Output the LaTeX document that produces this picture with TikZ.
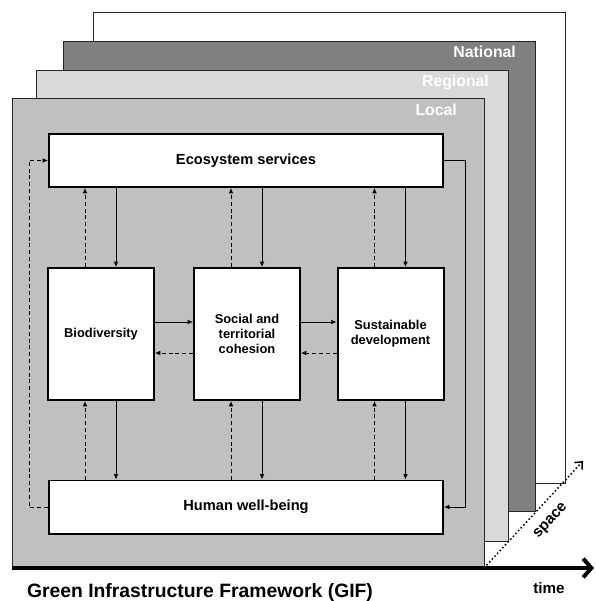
\documentclass[tikz,border=0pt]{standalone}
\usepackage{fontspec}
\setmainfont{Liberation Sans}
\usetikzlibrary{arrows.meta,calc}
\definecolor{localgray}{HTML}{C0C0C0}
\definecolor{regiongray}{HTML}{D9D9D9}
\definecolor{nationgray}{HTML}{808080}
\tikzset{
  layer/.style={draw=black!85,line width=0.8pt},
  layerlabel/.style={anchor=east,text=white,font=\bfseries\fontsize{13.5}{16}\selectfont},
  box/.style={draw,fill=white,line width=1.7pt,align=center,inner sep=0pt,font=\bfseries\fontsize{11}{12.8}\selectfont},
  wide/.style={box,minimum width=11.82cm,minimum height=1.59cm,font=\bfseries\fontsize{12.5}{14}\selectfont},
  tall/.style={box,minimum width=3.18cm,minimum height=3.96cm},
  flow/.style={line width=0.8pt,-{Latex[length=4.5pt,width=4pt]}},
  back/.style={flow,dash pattern=on 3.4pt off 2.4pt},
}
\begin{document}
\begin{tikzpicture}[x=0.03cm,y=-0.03cm]
\useasboundingbox (0,0) rectangle (595,601);
% layers, back to front
\draw[layer,fill=white] (93,12) rectangle (565,483);
\draw[layer,fill=nationgray] (63,41) rectangle (535,511);
\draw[layer,fill=regiongray] (36,70) rectangle (508,541);
\draw[layer,fill=localgray] (12.5,98) rectangle (484,568);
\node[layerlabel] (national) at (520,52) {National};
\node[layerlabel] (regional) at (493,82) {Regional};
\node[layerlabel] (local) at (461,110) {Local};

% framework boxes
\node[wide] (eco) at (246,160.5) {Ecosystem services};
\node[wide] (hwb) at (246,507) {Human well-being};
\node[tall] (bio) at (101,334) {Biodiversity};
\node[tall] (soc) at (247,334) {Social and\\territorial\\cohesion};
\node[tall] (sus) at (390.5,334) {Sustainable\\development};

% links up and down
\foreach \b in {bio,soc,sus}{
  \coordinate (dn) at ($(\b.north)+(15,0)$);
  \coordinate (up) at ($(\b.north)+(-16,0)$);
  \draw[flow] (eco.south -| dn) -- (\b.north -| dn);
  \draw[back] (\b.north -| up) -- (eco.south -| up);
  \draw[flow] (\b.south -| dn) -- (hwb.north -| dn);
  \draw[back] (hwb.north -| up) -- (\b.south -| up);
}

% links across
\draw[flow] ($(bio.east)+(0,-12)$) -- ($(soc.west)+(0,-12)$);
\draw[flow] ($(soc.east)+(0,-12)$) -- ($(sus.west)+(0,-12)$);
\draw[back] ($(soc.west)+(0,19)$) -- ($(bio.east)+(0,19)$);
\draw[back] ($(sus.west)+(0,19)$) -- ($(soc.east)+(0,19)$);

% outer loops
\draw[back] (hwb.west) -- ++(-19,0) |- (eco.west);
\draw[flow] (eco.east) -- ++(21,0) |- (hwb.east);

% time and space
\coordinate (t0) at (12,568);
\coordinate (tend) at (594,568);
\coordinate (origin) at (484,568);
\coordinate (send) at (583,461);
\draw[line width=3.4pt,-{Straight Barb[length=7pt,width=16pt]}] (t0) -- (tend);
\draw[dotted,line width=1.3pt,-{Straight Barb[length=5pt,width=9pt]}] (origin) -- (send);
\node[rotate=47.6,font=\bfseries\fontsize{13}{15}\selectfont] (space) at (551,521) {space};
\node[font=\bfseries\fontsize{13}{15}\selectfont] (time) at (549,588) {time};
\node[font=\bfseries\fontsize{16.5}{18}\selectfont] (gif) at (200,592) {Green Infrastructure Framework (GIF)};
\end{tikzpicture}
\end{document}
